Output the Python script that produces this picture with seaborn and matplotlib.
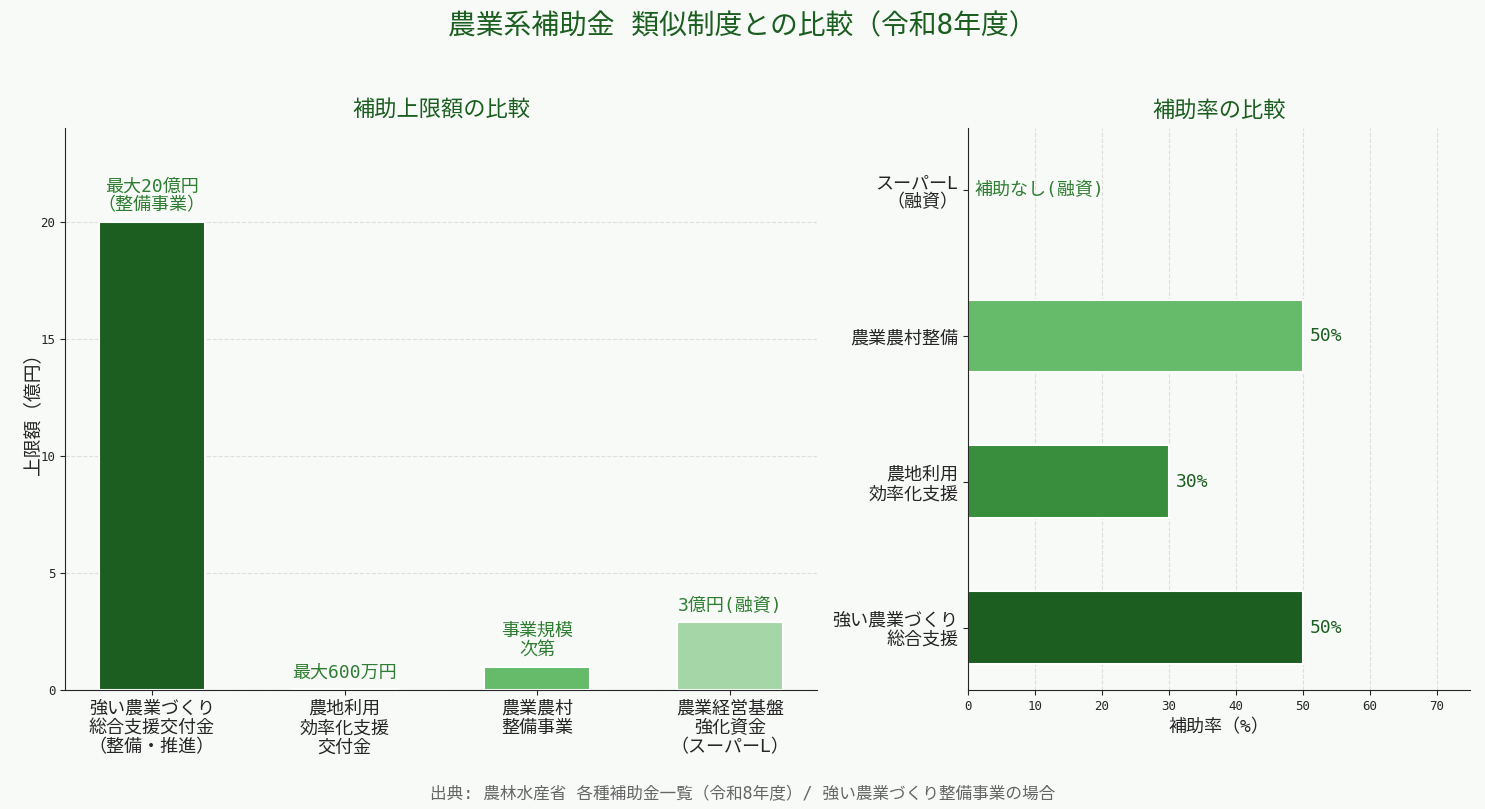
import matplotlib
matplotlib.use("Agg")
import matplotlib.pyplot as plt
import seaborn as sns
import pandas as pd

# 補助上限額 (億円)
programs = ["強い農業づくり\n総合支援交付金\n（整備・推進）", "農地利用\n効率化支援\n交付金",
            "農業農村\n整備事業", "農業経営基盤\n強化資金\n（スーパーL）"]
max_amount = [20, 0.06, 1.0, 2.9]
amount_labels = ["最大20億円\n（整備事業）", "最大600万円", "事業規模\n次第", "3億円(融資)"]

# 補助率 (%)
rate_programs = ["強い農業づくり\n総合支援", "農地利用\n効率化支援", "農業農村整備", "スーパーL\n（融資）"]
rate_values = [50, 30, 50, 0]
rate_labels = ["50%", "30%", "50%", "補助なし(融資)"]

bar_colors = ["#1b5e20", "#388e3c", "#66bb6a", "#a5d6a7"]
dark = "#1b5e20"
mid = "#2e7d32"
bg = "#f8faf8"

sns.set_style("ticks")
plt.rcParams["font.family"] = ["DejaVu Sans Mono", "Noto Sans CJK JP"]

fig = plt.figure(figsize=(14.85, 8.09), dpi=100, facecolor=bg)
ax1 = fig.add_axes([0.0438, 0.1471, 0.5064, 0.6947], facecolor=bg)
ax2 = fig.add_axes([0.6519, 0.1471, 0.3380, 0.6947], facecolor=bg)

# left: 上限額
df1 = pd.DataFrame({"program": programs, "amount": max_amount})
sns.barplot(data=df1, x="program", y="amount", hue="program", palette=bar_colors,
            legend=False, width=0.55, edgecolor="white", linewidth=1.5,
            saturation=1, ax=ax1)
for i, (v, lab) in enumerate(zip(max_amount, amount_labels)):
    ax1.text(i, v + 0.3, lab, ha="center", va="bottom", fontsize=13,
             color=mid, linespacing=1.1)
ax1.set_xlim(-0.45, 3.45)
ax1.set_ylim(0, 24)
ax1.set_yticks([0, 5, 10, 15, 20])
ax1.set_xlabel("")
ax1.set_ylabel("上限額（億円）", fontsize=13.5, labelpad=-1)
ax1.set_title("補助上限額の比較", fontsize=16, color=dark, pad=8)
ax1.tick_params(axis="x", labelsize=13)
ax1.tick_params(axis="y", labelsize=9)
ax1.yaxis.grid(True, linestyle="--", color="#cccccc", alpha=0.6)
ax1.set_axisbelow(True)
for lab in ax1.get_xticklabels():
    lab.set_linespacing(1.1)
sns.despine(ax=ax1)

# right: 補助率
df2 = pd.DataFrame({"program": rate_programs, "rate": rate_values})
sns.barplot(data=df2, y="program", x="rate", hue="program", palette=bar_colors,
            legend=False, width=0.5, edgecolor="white", linewidth=1.5,
            saturation=1, orient="h", ax=ax2)
ax2.set_ylim(-0.425, 3.425)
for i, (v, lab) in enumerate(zip(rate_values, rate_labels)):
    if v > 0:
        ax2.text(v + 1, i, lab, va="center", ha="left", fontsize=13, color=dark)
    else:
        ax2.text(1, i, lab, va="center", ha="left", fontsize=13, color=mid)
ax2.set_xlim(0, 75)
ax2.set_xticks(range(0, 80, 10))
ax2.set_ylabel("")
ax2.set_xlabel("補助率（%）", fontsize=13)
ax2.set_title("補助率の比較", fontsize=16, color=dark, pad=8)
ax2.tick_params(axis="y", labelsize=13)
ax2.tick_params(axis="x", labelsize=9)
ax2.xaxis.grid(True, linestyle="--", color="#cccccc", alpha=0.6)
ax2.set_axisbelow(True)
for lab in ax2.get_yticklabels():
    lab.set_linespacing(1.1)
sns.despine(ax=ax2)

fig.suptitle("農業系補助金 類似制度との比較（令和8年度）", fontsize=20, color=dark, y=0.985)
fig.text(0.5, 0.012, "出典: 農林水産省 各種補助金一覧（令和8年度）/ 強い農業づくり整備事業の場合",
         ha="center", fontsize=12, color="#666666")

fig.savefig("out.png", dpi=100, facecolor=bg)
